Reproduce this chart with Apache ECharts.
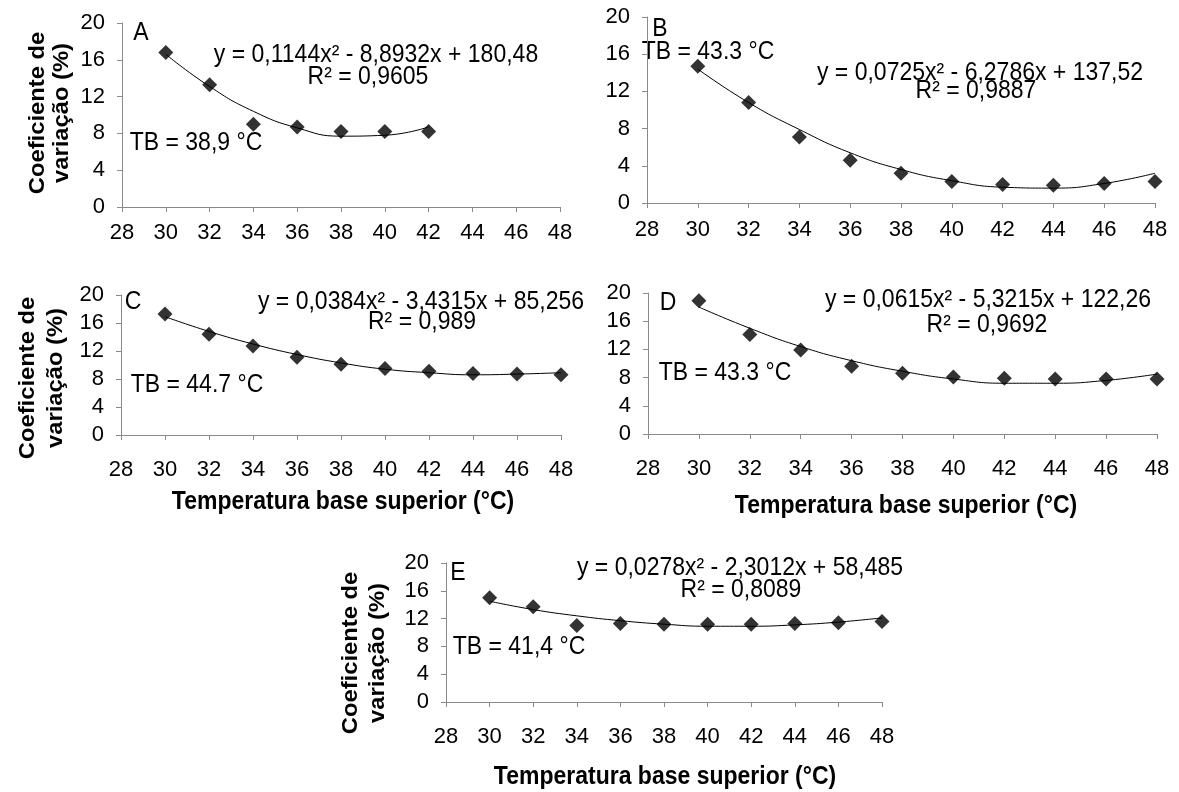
<!DOCTYPE html>
<html>
<head>
<meta charset="utf-8">
<script src="https://cdn.jsdelivr.net/npm/echarts@6/dist/echarts.min.js"></script>
<style>
  html, body { margin: 0; padding: 0; background: #fff; }
  #chart { width: 1179px; height: 792px; }
</style>
</head>
<body>
<div id="chart"></div>
<script>
// temperatura base superior (°C)
var temps = [30, 32, 34, 36, 38, 40, 42, 44, 46, 48];
var xTicks = [28, 48, 2];
var yTicks = [0, 20, 4];

// coeficiente de variação (%) observado
var cvA = [16.8, 13.3, 9.0, 8.7, 8.2, 8.2, 8.2];
var cvB = [14.7, 10.8, 7.1, 4.6, 3.2, 2.3, 2.0, 1.9, 2.1, 2.3];
var cvC = [17.3, 14.4, 12.7, 11.1, 10.1, 9.5, 9.1, 8.8, 8.7, 8.6];
var cvD = [18.9, 14.1, 11.9, 9.6, 8.6, 8.1, 7.9, 7.8, 7.8, 7.8];
var cvE = [15.0, 13.7, 11.0, 11.3, 11.2, 11.2, 11.2, 11.3, 11.4, 11.6];

// linha de tendência
var fitA = [16.6, 13.1, 10.4, 8.6, 7.7, 7.8, 8.7];
var fitB = [14.4, 10.8, 7.9, 5.4, 3.6, 2.4, 1.7, 1.6, 2.1, 3.2];
var fitC = [16.9, 14.8, 13.0, 11.5, 10.3, 9.4, 8.9, 8.6, 8.7, 8.9];
var fitD = [18.0, 15.0, 12.4, 10.4, 8.9, 7.8, 7.2, 7.2, 7.6, 8.5];
var fitE = [14.5, 13.3, 12.4, 11.7, 11.2, 10.9, 10.9, 11.1, 11.5, 12.1];

var letters = ['A', 'B', 'C', 'D', 'E'];
var equations = [
    'y = 0,1144x² - 8,8932x + 180,48',
    'y = 0,0725x² - 6,2786x + 137,52',
    'y = 0,0384x² - 3,4315x + 85,256',
    'y = 0,0615x² - 5,3215x + 122,26',
    'y = 0,0278x² - 2,3012x + 58,485'
];
var r2 = ['R² = 0,9605', 'R² = 0,9887', 'R² = 0,989', 'R² = 0,9692', 'R² = 0,8089'];
var tb = ['TB = 38,9 °C', 'TB = 43.3 °C', 'TB = 44.7 °C', 'TB = 43.3 °C', 'TB = 41,4 °C'];
var yTitle = ['Coeficiente de', 'variação (%)'];
var xTitle = 'Temperatura base superior (°C)';

var FONT = '"Liberation Sans", Arial, sans-serif';
var axisGray = '#8a8a8a';

var grids = [
    { left: 122, top: 23, width: 438, height: 184 },
    { left: 647, top: 17, width: 508, height: 186 },
    { left: 121, top: 295, width: 440, height: 140 },
    { left: 648, top: 293, width: 509, height: 141 },
    { left: 446, top: 563, width: 436, height: 139 }
];
var labelMargin = [15, 16, 24, 24, 24];

// posições dos textos de cada painel
var pos = [
    { letter: [141, 33], eq: [376, 55], r2: [368, 77], tb: [196, 143], yt: [38, 62, 113], xt: null },
    { letter: [660, 29], eq: [980, 73], r2: [976, 91], tb: [708, 52], yt: null, xt: null },
    { letter: [133, 302], eq: [421, 302], r2: [422, 322], tb: [197, 385], yt: [28, 56, 378], xt: [343, 502] },
    { letter: [668, 303], eq: [988, 300], r2: [987, 325], tb: [725, 373], yt: null, xt: [906, 506] },
    { letter: [458, 573], eq: [740, 568], r2: [741, 590], tb: [519, 647], yt: [351, 378, 653], xt: [665, 777] }
];

var cvs = [cvA, cvB, cvC, cvD, cvE];
var fits = [fitA, fitB, fitC, fitD, fitE];

function pairs(vals) {
    return vals.map(function (v, i) { return [temps[i], v]; });
}

function txt(t, p, bold, size, rot) {
    var el = {
        type: 'text',
        x: p[0], y: p[1],
        rotation: rot || 0,
        style: {
            text: t,
            fill: '#000',
            font: (bold ? 'bold ' : '') + size + 'px ' + FONT,
            align: 'center',
            verticalAlign: 'middle'
        }
    };
    // o texto original é um pouco esticado na vertical
    if (rot) { el.scaleY = 1.0; el.scaleX = 1.08; } else { el.scaleY = 1.1; }
    return el;
}

var xAxes = [], yAxes = [], series = [], graphics = [];
grids.forEach(function (g, i) {
    xAxes.push({
        type: 'value', gridIndex: i,
        min: xTicks[0], max: xTicks[1], interval: xTicks[2],
        axisLine: { show: true, lineStyle: { color: axisGray, width: 1 } },
        axisTick: { show: true, length: 5, lineStyle: { color: axisGray } },
        splitLine: { show: false },
        axisLabel: { color: '#000', fontSize: 22, fontFamily: FONT, margin: labelMargin[i] }
    });
    yAxes.push({
        type: 'value', gridIndex: i,
        min: yTicks[0], max: yTicks[1], interval: yTicks[2],
        axisLine: { show: true, lineStyle: { color: axisGray, width: 1 } },
        axisTick: { show: true, length: 5, lineStyle: { color: axisGray } },
        splitLine: { show: false },
        axisLabel: { color: '#000', fontSize: 22, fontFamily: FONT, margin: 17 }
    });
    series.push({
        type: 'line', xAxisIndex: i, yAxisIndex: i,
        data: pairs(fits[i]),
        smooth: 0.5,
        showSymbol: false,
        lineStyle: { color: '#000', width: 1 },
        silent: true,
        z: 2
    });
    series.push({
        type: 'scatter', xAxisIndex: i, yAxisIndex: i,
        data: pairs(cvs[i]),
        symbol: 'diamond',
        symbolSize: [15, 15],
        itemStyle: { color: '#000' },
        z: 3
    });
    var p = pos[i];
    graphics.push(txt(letters[i], p.letter, false, 23));
    graphics.push(txt(equations[i], p.eq, false, 23));
    graphics.push(txt(r2[i], p.r2, false, 23));
    graphics.push(txt(tb[i], p.tb, false, 23));
    if (p.yt) {
        graphics.push(txt(yTitle[0], [p.yt[0], p.yt[2]], true, 22, Math.PI / 2));
        graphics.push(txt(yTitle[1], [p.yt[1], p.yt[2]], true, 22, Math.PI / 2));
    }
    if (p.xt) {
        graphics.push(txt(xTitle, p.xt, true, 23));
    }
});

var myChart = echarts.init(document.getElementById('chart'), null, { renderer: 'canvas' });
var option = {
    backgroundColor: '#fff',
    animation: false,
    grid: grids,
    xAxis: xAxes,
    yAxis: yAxes,
    series: series,
    graphic: graphics
};
myChart.setOption(option);
window.addEventListener('resize', function () {
    myChart.resize();
});
</script>
</body>
</html>
